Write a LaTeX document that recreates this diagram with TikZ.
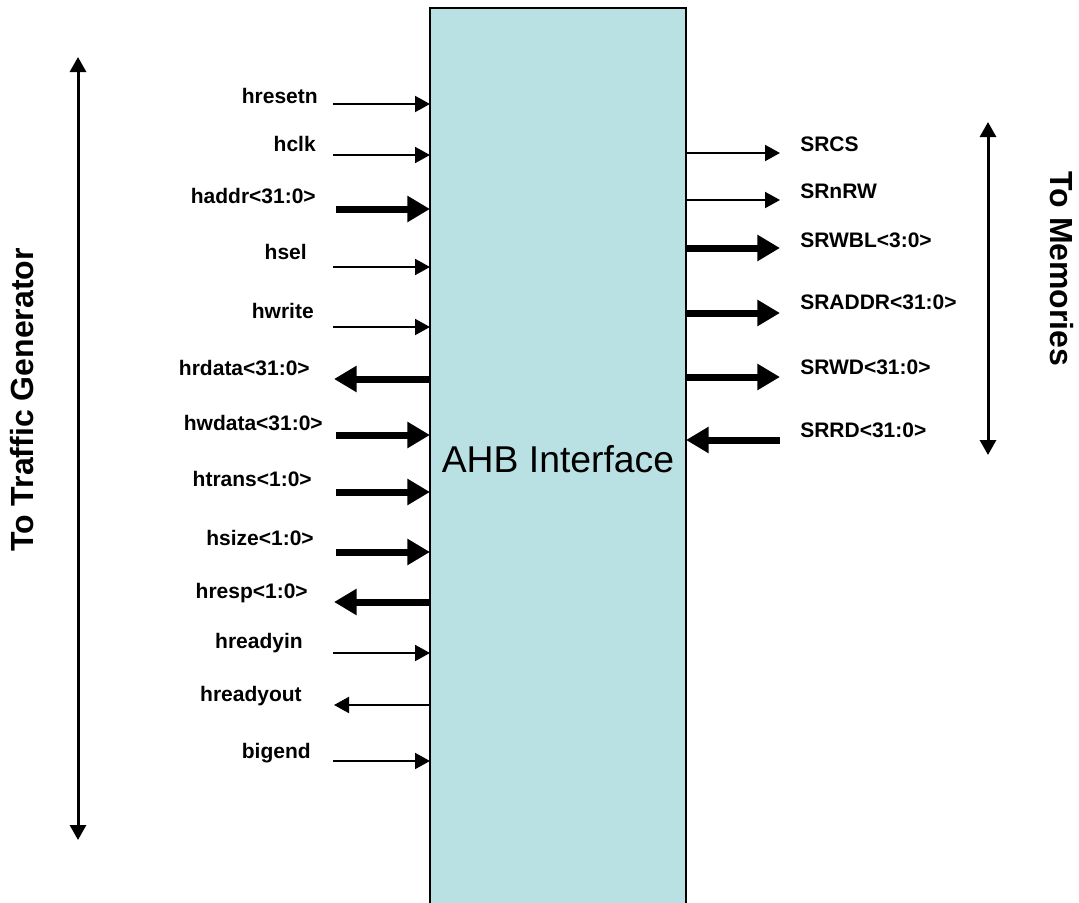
\documentclass[tikz,border=0pt]{standalone}
\usepackage{fontspec}
\setmainfont{Liberation Sans}
\usetikzlibrary{arrows.meta}
\definecolor{boxfill}{RGB}{185,224,227}
\begin{document}
\begin{tikzpicture}[x=0.75pt,y=-0.75pt,
  sig/.style={font=\bfseries\fontsize{15.75}{18}\selectfont, inner sep=0pt},
  lsig/.style={sig, anchor=base east},
  rsig/.style={sig, anchor=base west},
  thinarrow/.style={line width=1.5pt, -{Triangle[length=11.25pt,width=12pt]}},
  thickarrow/.style={line width=5.25pt, -{Triangle[length=17pt,width=18.75pt]}},
  sidearrow/.style={line width=2.25pt, {Triangle[length=11.25pt,width=12pt]}-{Triangle[length=11.25pt,width=12pt]}},
  side/.style={font=\bfseries\fontsize{24}{28}\selectfont, inner sep=0pt},
]
\useasboundingbox (0,0) rectangle (1079,903);

% main block
\node[draw, line width=1.5pt, fill=boxfill, outer sep=0pt, inner sep=0pt,
      minimum width=192pt, minimum height=676.5pt, anchor=north west,
      font=\fontsize{28}{32}\selectfont] (ahb) at (430,8) {AHB Interface};

% left labels
\node[lsig] (l1)  at (318,103) {hresetn};
\node[lsig] (l2)  at (316,151) {hclk};
\node[lsig] (l3)  at (316,203) {haddr<31:0>};
\node[lsig] (l4)  at (307,259) {hsel};
\node[lsig] (l5)  at (314,318) {hwrite};
\node[lsig] (l6)  at (310,375) {hrdata<31:0>};
\node[lsig] (l7)  at (323,430) {hwdata<31:0>};
\node[lsig] (l8)  at (312,486) {htrans<1:0>};
\node[lsig] (l9)  at (314,545) {hsize<1:0>};
\node[lsig] (l10) at (308,598) {hresp<1:0>};
\node[lsig] (l11) at (303,648) {hreadyin};
\node[lsig] (l12) at (302,701) {hreadyout};
\node[lsig] (l13) at (311,758) {bigend};

% left connector ends
\coordinate (a1)  at (333,104);
\coordinate (a2)  at (333,155);
\coordinate (a3)  at (336,209);
\coordinate (a4)  at (333,267);
\coordinate (a5)  at (333,327);
\coordinate (a6)  at (334,379);
\coordinate (a7)  at (336,435);
\coordinate (a8)  at (336,492);
\coordinate (a9)  at (336,552);
\coordinate (a10) at (334,602);
\coordinate (a11) at (333,653);
\coordinate (a12) at (334,705);
\coordinate (a13) at (333,761);

\draw[thinarrow]  (a1) -- (a1 -| ahb.west);
\draw[thinarrow]  (a2) -- (a2 -| ahb.west);
\draw[thickarrow] (a3) -- (a3 -| ahb.west);
\draw[thinarrow]  (a4) -- (a4 -| ahb.west);
\draw[thinarrow]  (a5) -- (a5 -| ahb.west);
\draw[thickarrow] (a6 -| ahb.west) -- (a6);
\draw[thickarrow] (a7) -- (a7 -| ahb.west);
\draw[thickarrow] (a8) -- (a8 -| ahb.west);
\draw[thickarrow] (a9) -- (a9 -| ahb.west);
\draw[thickarrow] (a10 -| ahb.west) -- (a10);
\draw[thinarrow]  (a11) -- (a11 -| ahb.west);
\draw[thinarrow]  (a12 -| ahb.west) -- (a12);
\draw[thinarrow]  (a13) -- (a13 -| ahb.west);

% right labels
\node[rsig] (r1) at (800,151) {SRCS};
\node[rsig] (r2) at (800,198) {SRnRW};
\node[rsig] (r3) at (800,247) {SRWBL<3:0>};
\node[rsig] (r4) at (800,309) {SRADDR<31:0>};
\node[rsig] (r5) at (800,374) {SRWD<31:0>};
\node[rsig] (r6) at (800,437) {SRRD<31:0>};

% right connector ends
\coordinate (b1) at (780,153);
\coordinate (b2) at (780,200);
\coordinate (b3) at (780,248);
\coordinate (b4) at (780,313);
\coordinate (b5) at (780,377);
\coordinate (b6) at (780,440);

\draw[thinarrow]  (b1 -| ahb.east) -- (b1);
\draw[thinarrow]  (b2 -| ahb.east) -- (b2);
\draw[thickarrow] (b3 -| ahb.east) -- (b3);
\draw[thickarrow] (b4 -| ahb.east) -- (b4);
\draw[thickarrow] (b5 -| ahb.east) -- (b5);
\draw[thickarrow] (b6) -- (b6 -| ahb.east);

% side spans
\coordinate (tgtop) at (78,57);
\coordinate (tgbot) at (78,840);
\draw[sidearrow] (tgtop) -- (tgbot);
\node[side, rotate=90] (tg) at (22,400) {To Traffic Generator};

\coordinate (memtop) at (988,122);
\coordinate (membot) at (988,455);
\draw[sidearrow] (memtop) -- (membot);
\node[side, rotate=-90] (mem) at (1062,269) {To Memories};
\end{tikzpicture}
\end{document}
